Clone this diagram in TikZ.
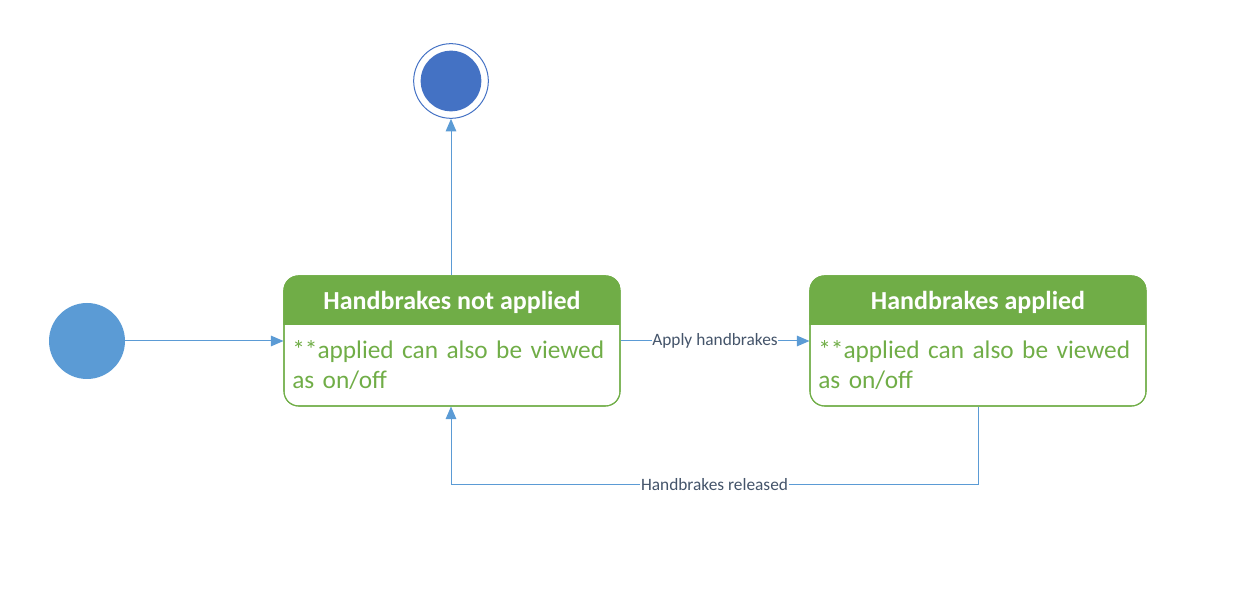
\documentclass[tikz,border=0pt]{standalone}
\usepackage{fontspec}
\setmainfont{Carlito}
\usetikzlibrary{arrows.meta,calc}
\definecolor{initblue}{HTML}{5B9BD5}
\definecolor{finalblue}{HTML}{4472C4}
\definecolor{stgreen}{HTML}{70AD47}
\definecolor{lblcol}{HTML}{44546A}
\definecolor{linecol}{HTML}{5B9BD5}
\tikzset{
  statebox/.style={draw=stgreen, line width=0.8pt, rounded corners=11pt, minimum width=252pt, minimum height=97.5pt, inner sep=0pt},
  headtext/.style={text=white, font=\fontsize{19.5}{23}\selectfont\bfseries, inner sep=0pt, anchor=base},
  bodytext/.style={text=stgreen, font=\fontsize{19}{22}\selectfont, align=left, text width=245pt, inner sep=0pt, anchor=base west},
  conn/.style={draw=linecol, line width=0.75pt, -{Triangle[length=9.5pt,width=8pt]}},
  lbl/.style={fill=white, text=lblcol, font=\fontsize{13}{15}\selectfont, inner sep=0.5pt}
}
\begin{document}
\begin{tikzpicture}[x=0.75pt,y=-0.75pt]
\useasboundingbox (0,0) rectangle (1257,598);
% initial and final
\node[circle, fill=initblue, minimum size=57pt, inner sep=0pt] (init) at (87,341) {};
\node[circle, draw=finalblue, line width=0.75pt, minimum size=56pt, inner sep=0pt] (final) at (451,81) {};
\node[circle, fill=finalblue, minimum size=45.5pt, inner sep=0pt] (finalin) at (451,81) {};
% states
\foreach \n/\cx in {s1/452, s2/978} {
  \node[statebox] (\n) at (\cx,341) {};
  \begin{scope}
    \clip[rounded corners=11pt] (\n.north west) rectangle (\n.south east);
    \fill[stgreen] (\n.north west) rectangle ($(\n.north east)+(0,50)$);
  \end{scope}
  \node[statebox] at (\cx,341) {};
}
\node[headtext] (h1) at (452,310) {Handbrakes not applied};
\node[headtext] (h2) at (978,310) {Handbrakes applied};
\node[bodytext] (b1) at (292,359) {**applied can also be viewed\\as on/off};
\node[bodytext] (b2) at (818,359) {**applied can also be viewed\\as on/off};
% connectors
\draw[conn] (init.east) -- (init.east -| s1.west);
\draw[conn] (s1.north -| final.south) -- (final.south);
\draw[conn] (s1.east |- init) -- node[lbl] (la) {Apply handbrakes} (s2.west |- init);
\coordinate (c1) at ($(s2.south)+(0,78)$);
\coordinate (c2) at (c1 -| final);
\draw[conn] (s2.south) -- (c1) -- node[lbl, pos=0.5] (lr) {Handbrakes released} (c2) -- (s1.south -| final);
\end{tikzpicture}
\end{document}
